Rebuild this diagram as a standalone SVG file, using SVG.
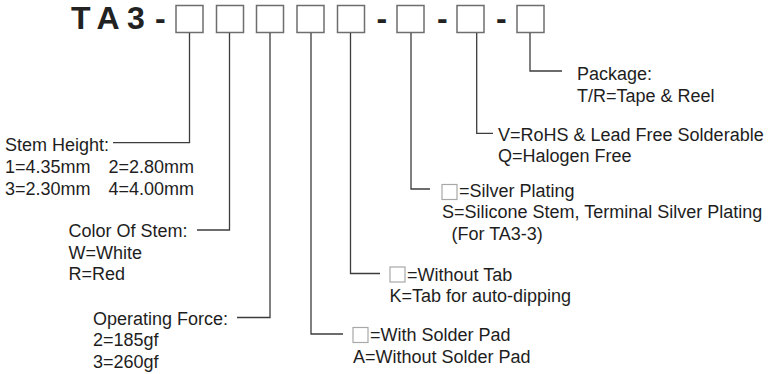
<svg xmlns="http://www.w3.org/2000/svg" width="775" height="374" viewBox="0 0 775 374">
<style>
  .t { font-family: "Liberation Sans", Arial, sans-serif; font-size: 18px; fill: #1e1e1e; }
  .title { font-family: "Liberation Sans", Arial, sans-serif; font-size: 32px; font-weight: bold; fill: #222; }
  .box { fill: #fff; stroke: #6e6e6e; stroke-width: 1.5; }
  .sbox { fill: #fff; stroke: #a8a8a8; stroke-width: 1.2; }
  .conn { fill: none; stroke: #3c3c3c; stroke-width: 1.3; }
</style>
<rect width="775" height="374" fill="#fff"/>
<g id="title">
  <text class="title" y="28.5"><tspan x="71">T</tspan><tspan x="96.5">A</tspan><tspan x="127">3</tspan><tspan x="155">-</tspan><tspan x="376.5">-</tspan><tspan x="437">-</tspan><tspan x="496">-</tspan></text>
</g>
<g id="box1"><rect class="box" x="176" y="5.5" width="27" height="27"/></g>
<g id="box2"><rect class="box" x="216.5" y="5.5" width="27" height="27"/></g>
<g id="box3"><rect class="box" x="256.5" y="5.5" width="27" height="27"/></g>
<g id="box4"><rect class="box" x="297" y="5.5" width="27" height="27"/></g>
<g id="box5"><rect class="box" x="337.5" y="5.5" width="27" height="27"/></g>
<g id="box6"><rect class="box" x="397" y="5.5" width="27" height="27"/></g>
<g id="box7"><rect class="box" x="457" y="5.5" width="27" height="27"/></g>
<g id="box8"><rect class="box" x="517" y="5.5" width="27" height="27"/></g>
<g id="connectors">
  <polyline class="conn" points="189.5,33 189.5,142.7 113,142.7"/>
  <polyline class="conn" points="229.5,33 229.5,230 197,230"/>
  <polyline class="conn" points="270,33 270,317.5 237,317.5"/>
  <polyline class="conn" points="311,33 311,334 343,334"/>
  <polyline class="conn" points="350.5,33 350.5,273.5 380,273.5"/>
  <polyline class="conn" points="411,33 411,189 430,189"/>
  <polyline class="conn" points="476.7,33 476.7,133.3 493,133.3"/>
  <polyline class="conn" points="530,33 530,71 562,71"/>
</g>
<g id="stem-height">
  <text class="t" x="5" y="150.5">Stem Height:</text>
  <text class="t" x="5" y="172.5">1=4.35mm</text>
  <text class="t" x="108.5" y="172.5">2=2.80mm</text>
  <text class="t" x="5" y="194.5">3=2.30mm</text>
  <text class="t" x="108.5" y="194.5">4=4.00mm</text>
</g>
<g id="color-of-stem">
  <text class="t" x="68.5" y="237">Color Of Stem:</text>
  <text class="t" x="68.5" y="258.5">W=White</text>
  <text class="t" x="68.5" y="280">R=Red</text>
</g>
<g id="operating-force">
  <text class="t" x="93" y="324.5">Operating Force:</text>
  <text class="t" x="93" y="346">2=185gf</text>
  <text class="t" x="93" y="367.5">3=260gf</text>
</g>
<g id="solder-pad">
  <rect class="sbox" x="353" y="327.5" width="15" height="15"/>
  <text class="t" x="370" y="341">=With Solder Pad</text>
  <text class="t" x="353" y="362.5">A=Without Solder Pad</text>
</g>
<g id="tab">
  <rect class="sbox" x="390" y="267" width="15" height="15"/>
  <text class="t" x="407" y="280.5">=Without Tab</text>
  <text class="t" x="389.5" y="302">K=Tab for auto-dipping</text>
</g>
<g id="plating">
  <rect class="sbox" x="442" y="184.5" width="15" height="15"/>
  <text class="t" x="459" y="196.5">=Silver Plating</text>
  <text class="t" x="442" y="218">S=Silicone Stem, Terminal Silver Plating</text>
  <text class="t" x="451.5" y="240">(For TA3-3)</text>
</g>
<g id="rohs">
  <text class="t" x="498" y="140.5">V=RoHS &amp; Lead Free Solderable</text>
  <text class="t" x="498" y="162">Q=Halogen Free</text>
</g>
<g id="package">
  <text class="t" x="577" y="79.5">Package:</text>
  <text class="t" x="577" y="101.5">T/R=Tape &amp; Reel</text>
</g>
</svg>
